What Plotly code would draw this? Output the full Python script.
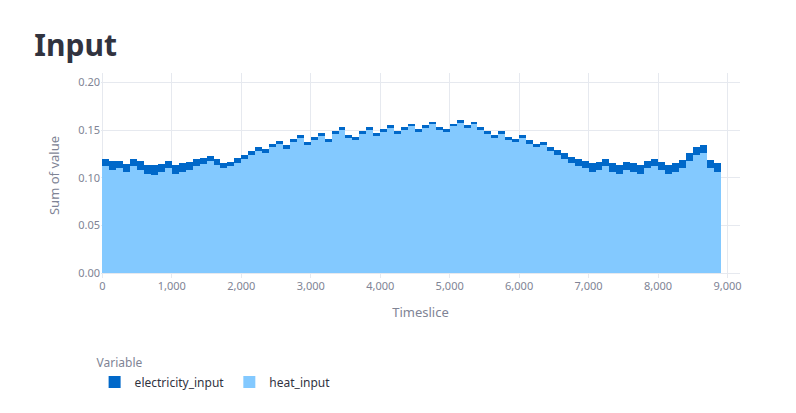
import plotly.graph_objects as go

# 100-timeslice bins, starting values
bin_start = list(range(0, 8900, 100))
heat_input = [0.112,0.108,0.110,0.106,0.112,0.108,0.104,0.103,0.106,0.110,0.104,0.106,0.108,0.112,0.115,0.118,
              0.114,0.110,0.112,0.116,0.120,0.124,0.128,0.126,0.132,0.136,0.130,0.138,0.142,0.134,
              0.140,0.144,0.138,0.146,0.150,0.142,0.140,0.146,0.150,0.144,0.148,0.152,0.146,0.150,0.154,
              0.148,0.152,0.156,0.150,0.148,0.154,0.158,0.152,0.156,0.150,0.146,0.142,0.146,0.140,0.138,
              0.142,0.136,0.132,0.134,0.128,0.124,0.120,0.116,0.112,0.110,0.106,0.108,0.112,0.106,0.104,
              0.108,0.106,0.104,0.110,0.112,0.108,0.104,0.106,0.110,0.118,0.124,0.126,0.110,0.106]
electricity_input = [0.008,0.010,0.008,0.009,0.008,0.010,0.010,0.010,0.009,0.008,0.010,0.010,0.009,0.008,0.006,0.005,
                     0.006,0.006,0.005,0.005,0.004,0.004,0.004,0.004,0.004,0.003,0.004,0.003,0.003,0.004,
                     0.003,0.003,0.003,0.003,0.003,0.003,0.003,0.003,0.003,0.003,0.003,0.003,0.003,0.003,0.003,
                     0.003,0.003,0.003,0.003,0.003,0.003,0.003,0.003,0.003,0.003,0.003,0.003,0.003,0.003,0.003,
                     0.003,0.004,0.004,0.004,0.004,0.005,0.006,0.006,0.008,0.008,0.010,0.009,0.008,0.010,0.010,
                     0.009,0.010,0.010,0.008,0.008,0.009,0.010,0.010,0.009,0.008,0.008,0.008,0.009,0.010]

fig = go.Figure()
fig.add_bar(x=[b + 50 for b in bin_start], y=heat_input, width=100, name="heat_input",
            marker=dict(color="#83c9ff", line_width=0))
fig.add_bar(x=[b + 50 for b in bin_start], y=electricity_input, width=100, name="electricity_input",
            marker=dict(color="#0068c9", line_width=0))
fig.update_layout(
    barmode="stack", bargap=0,
    width=796, height=413, paper_bgcolor="white", plot_bgcolor="white",
    font=dict(family="Noto Sans", color="#31333f"),
    title=dict(text="<b>Input</b>", x=0.033, y=0.935, font=dict(size=30, color="#31333f")),
    margin=dict(l=93, r=64, t=65, b=143),
    xaxis=dict(title=dict(text="Timeslice", font=dict(size=13, color="#808495")),
               range=[-20, 9180], tickvals=list(range(0, 9001, 1000)), tickformat=",",
               showgrid=True, gridcolor="#e6e9ef", tickfont=dict(size=11, color="#808495"), zeroline=False),
    yaxis=dict(title=dict(text="Sum of value", font=dict(size=13, color="#808495")),
               range=[-0.005, 0.21], tickvals=[0, 0.05, 0.1, 0.15, 0.2], tickformat=".2f",
               showgrid=True, gridcolor="#e6e9ef", tickfont=dict(size=11, color="#808495"), zeroline=False),
    legend=dict(orientation="h", x=-0.01, xanchor="left", y=-0.36, yanchor="top",
                title=dict(text="Variable", side="top", font=dict(size=12, color="#808495")),
                font=dict(size=12, color="#31333f"), itemwidth=30,
                traceorder="reversed"),
)
fig.write_html("out.html")
